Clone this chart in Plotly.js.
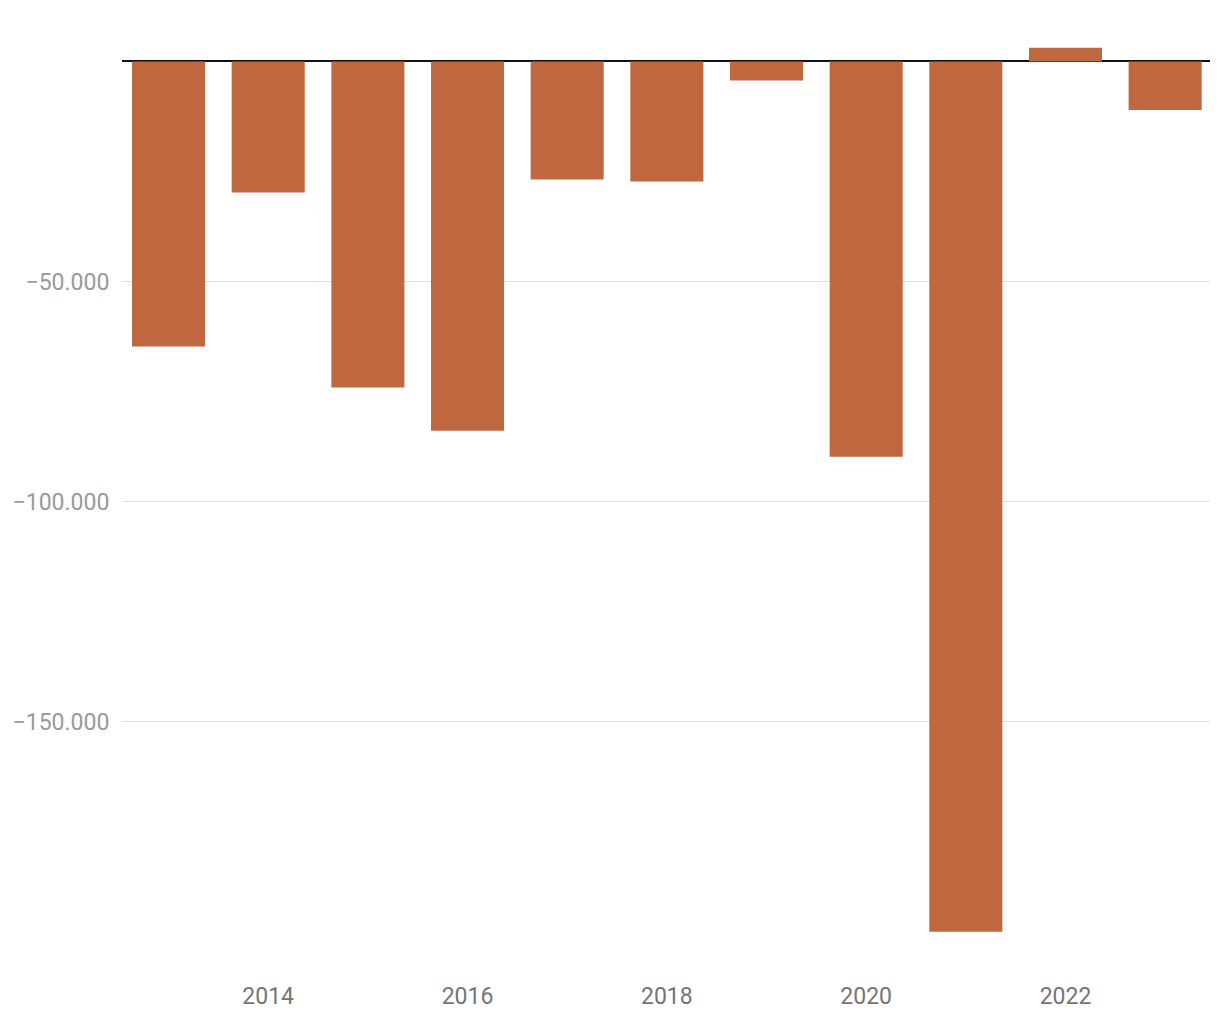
<!DOCTYPE html>
<html>
<head>
<meta charset="utf-8">
<script src="https://cdn.plot.ly/plotly-3.0.1.min.js"></script>
<style>html,body{margin:0;padding:0;background:#fff;}#chart{width:1220px;height:1020px;}</style>
</head>
<body>
<div id="chart"></div>
<script>
const years = [2013, 2014, 2015, 2016, 2017, 2018, 2019, 2020, 2021, 2022, 2023];
const values = [-64800, -29800, -74100, -83900, -26800, -27300, -4300, -89800, -197800, 3100, -11000];
const xTickVals = [2014, 2016, 2018, 2020, 2022];
const xTickText = ['2014', '2016', '2018', '2020', '2022'];
const yTickVals = [-50000, -100000, -150000];
const yTickText = ['\u221250.000', '\u2212100.000', '\u2212150.000'];

const trace = {
  type: 'bar',
  x: years,
  y: values,
  marker: {color: '#BF6840', line: {width: 0}},
  hoverinfo: 'x+y'
};

const layout = {
  width: 1220,
  height: 1020,
  margin: {l: 122, r: 10, t: 20, b: 60},
  paper_bgcolor: '#fff',
  plot_bgcolor: '#fff',
  bargap: 0.267,
  showlegend: false,
  font: {family: 'Roboto, sans-serif'},
  xaxis: {
    range: [2012.533, 2023.45],
    tickvals: xTickVals,
    ticktext: xTickText,
    showgrid: false,
    zeroline: false,
    showline: false,
    ticks: 'outside',
    ticklen: 15,
    tickcolor: 'rgba(0,0,0,0)',
    tickfont: {size: 23, color: '#757575', family: 'Roboto, sans-serif'}
  },
  yaxis: {
    range: [-204200, 9430],
    tickvals: yTickVals,
    ticktext: yTickText,
    showgrid: true,
    gridcolor: '#e0e0e0',
    gridwidth: 1,
    zeroline: true,
    zerolinecolor: '#111',
    zerolinewidth: 2,
    showline: false,
    ticks: 'outside',
    ticklen: 7,
    tickcolor: 'rgba(0,0,0,0)',
    tickfont: {size: 23, color: '#9a9a9a', family: 'Roboto, sans-serif'}
  }
};

Plotly.newPlot('chart', [trace], layout, {displayModeBar: false, staticPlot: true});
</script>
</body>
</html>
